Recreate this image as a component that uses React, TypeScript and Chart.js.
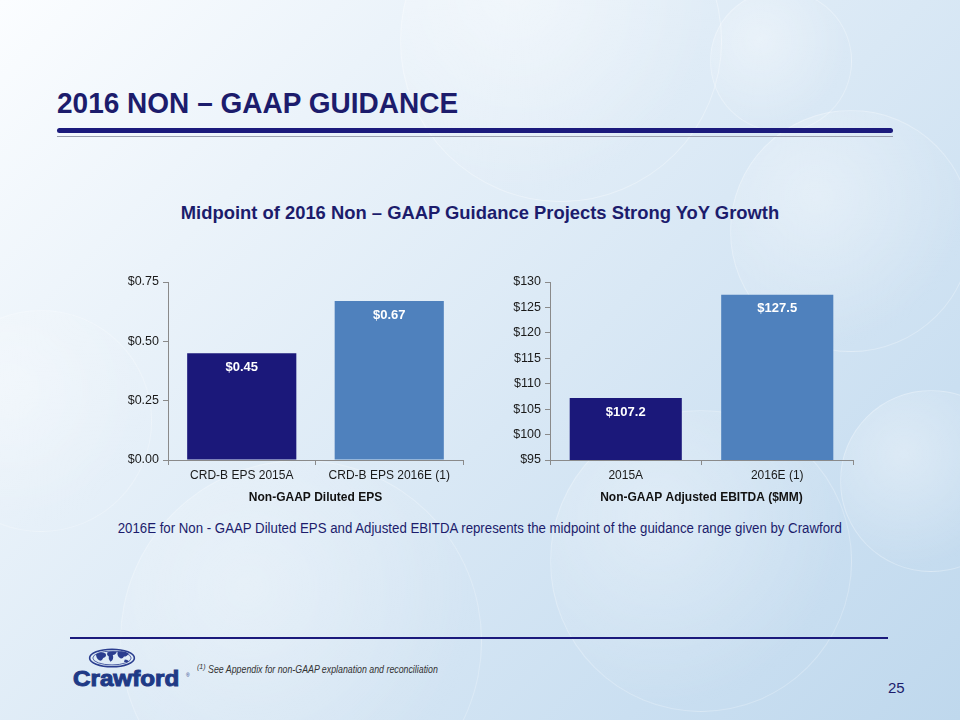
import React, { useEffect, useRef } from "react";
import { Chart, registerables } from "chart.js";

Chart.register(...registerables);

// ---------- data ----------
const epsCategories = ["CRD-B EPS 2015A", "CRD-B EPS 2016E (1)"];
const epsValues = [0.45, 0.67];
const epsValueLabels = ["$0.45", "$0.67"];
const epsAxisTitle = "Non-GAAP Diluted EPS";
const epsMin = 0;
const epsMax = 0.75;
const epsStep = 0.25;

const ebitdaCategories = ["2015A", "2016E (1)"];
const ebitdaValues = [107.2, 127.5];
const ebitdaValueLabels = ["$107.2", "$127.5"];
const ebitdaAxisTitle = "Non-GAAP Adjusted EBITDA ($MM)";
const ebitdaMin = 95;
const ebitdaMax = 130;
const ebitdaStep = 5;

const barColors = ["#1b187a", "#4f81bd"];

const NAVY = "#1c1c6c";
const SANS = "'Liberation Sans', Arial, sans-serif";

function makeLabelPlugin(labels: string[]) {
  return {
    id: "valueLabels",
    afterDatasetsDraw(chart: any) {
      const ctx = chart.ctx;
      const meta = chart.getDatasetMeta(0);
      ctx.save();
      ctx.font = `bold 13px ${SANS}`;
      ctx.fillStyle = "#ffffff";
      ctx.textAlign = "center";
      ctx.textBaseline = "middle";
      meta.data.forEach((bar: any, i: number) => {
        ctx.fillText(labels[i], bar.x, bar.y + 14);
      });
      ctx.restore();
    },
  };
}

type BarProps = {
  categories: string[];
  values: number[];
  valueLabels: string[];
  min: number;
  max: number;
  step: number;
  fmt: (v: number) => string;
  title: string;
  axisWidth: number;
  left: number;
  top: number;
};

function BarChart(p: BarProps) {
  const ref = useRef<HTMLCanvasElement>(null);
  useEffect(() => {
    const chart = new Chart(ref.current as HTMLCanvasElement, {
      type: "bar",
      data: {
        labels: p.categories,
        datasets: [
          {
            data: p.values,
            backgroundColor: barColors,
            barPercentage: 0.74,
            categoryPercentage: 1,
          },
        ],
      },
      options: {
        animation: false,
        responsive: false,
        maintainAspectRatio: false,
        layout: { padding: { top: 12, right: 17, left: 0, bottom: 0 } },
        plugins: { legend: { display: false }, tooltip: { enabled: false } },
        scales: {
          x: {
            grid: {
              display: true,
              drawOnChartArea: false,
              offset: true,
              tickLength: 5,
              color: "#8a8a8a",
            },
            border: { color: "#8a8a8a", width: 1 },
            ticks: {
              color: "#1a1a1a",
              font: { family: SANS, size: 12 },
              padding: 3,
              maxRotation: 0,
            },
            title: {
              display: true,
              text: p.title,
              color: "#111111",
              font: { family: SANS, size: 12, weight: "bold" },
              padding: { top: 3, bottom: 0 },
            },
            afterFit: (s: any) => {
              s.height = 45;
            },
          },
          y: {
            min: p.min,
            max: p.max,
            ticks: {
              stepSize: p.step,
              callback: (v: any) => p.fmt(Number(v)),
              color: "#1a1a1a",
              font: { family: SANS, size: 12.5 },
              padding: 4,
            },
            grid: {
              drawOnChartArea: false,
              tickLength: 5,
              color: "#8a8a8a",
            },
            border: { color: "#8a8a8a", width: 1 },
            afterFit: (s: any) => {
              s.width = p.axisWidth;
            },
          },
        },
      } as any,
      plugins: [makeLabelPlugin(p.valueLabels)],
    });
    return () => chart.destroy();
  }, []);
  return (
    <canvas
      ref={ref}
      width={380}
      height={235}
      style={{ position: "absolute", left: p.left, top: p.top, width: 380, height: 235 }}
    />
  );
}

function Bubble({ x, y, r, o }: { x: number; y: number; r: number; o: number }) {
  return (
    <div
      style={{
        position: "absolute",
        left: x - r,
        top: y - r,
        width: 2 * r,
        height: 2 * r,
        borderRadius: "50%",
        background: `radial-gradient(circle at 35% 35%, rgba(255,255,255,${o}) 0%, rgba(255,255,255,0) 70%)`,
        border: `1px solid rgba(255,255,255,${o * 0.8})`,
      }}
    />
  );
}

function Logo() {
  return (
    <>
      <svg
        width="48"
        height="20"
        viewBox="0 0 60 26"
        preserveAspectRatio="none"
        style={{ position: "absolute", left: 88, top: 648 }}
      >
        <ellipse cx="30" cy="13" rx="28" ry="11.5" fill="none" stroke="#2a3d8f" strokeWidth="2" />
        <ellipse cx="30" cy="13" rx="24" ry="9" fill="none" stroke="#2a3d8f" strokeWidth="1" />
        <path d="M10 8 q6 -4 12 -1 q2 4 -3 6 q-2 5 -5 3 q-4 -3 -4 -8z" fill="#2a3d8f" />
        <path d="M24 6 q6 -3 12 -1 q-1 4 -5 4 q2 6 -3 9 q-3 -4 -2 -7 q-3 -2 -2 -5z" fill="#2a3d8f" />
        <path d="M37 5 q8 -2 14 2 q-2 4 -6 4 q-2 4 -5 2 q-4 -2 -3 -8z" fill="#2a3d8f" />
        <path d="M46 15 q4 0 5 3 q-3 2 -6 0z" fill="#2a3d8f" />
      </svg>
      <div
        style={{
          position: "absolute",
          left: 73,
          top: 668,
          font: `bold 22px ${SANS}`,
          lineHeight: "22px",
          color: "#1f3a86",
          whiteSpace: "nowrap",
          transform: "scaleX(1.1)",
          transformOrigin: "left center",
          WebkitTextStroke: "1px #1f3a86",
        }}
      >
        Crawford
      </div>
      <div style={{ position: "absolute", left: 186, top: 672, font: `5px ${SANS}`, color: "#1f3a86" }}>®</div>
    </>
  );
}

function CenterText({
  top,
  font,
  scale,
  children,
}: {
  top: number;
  font: string;
  scale: number;
  children: React.ReactNode;
}) {
  return (
    <div
      style={{
        position: "absolute",
        left: 0,
        width: 960,
        top,
        textAlign: "center",
        whiteSpace: "nowrap",
      }}
    >
      <span
        style={{
          display: "inline-block",
          font,
          color: NAVY,
          transform: `scaleX(${scale})`,
          transformOrigin: "center center",
        }}
      >
        {children}
      </span>
    </div>
  );
}

export default function App() {
  useEffect(() => {
    document.body.style.margin = "0";
  }, []);
  return (
    <div
      style={{
        position: "relative",
        width: 960,
        height: 720,
        overflow: "hidden",
        background:
          "linear-gradient(135deg, #fbfdff 0%, #ebf3fa 25%, #d9e8f5 55%, #cadff1 80%, #bfd8ed 100%)",
        fontFamily: SANS,
      }}
    >
      <Bubble x={560} y={40} r={160} o={0.4} />
      <Bubble x={850} y={230} r={120} o={0.35} />
      <Bubble x={300} y={640} r={180} o={0.3} />
      <Bubble x={700} y={560} r={150} o={0.3} />
      <Bubble x={40} y={420} r={110} o={0.3} />
      <Bubble x={930} y={480} r={90} o={0.35} />
      <Bubble x={780} y={60} r={70} o={0.35} />

      <div
        style={{
          position: "absolute",
          left: 57,
          top: 84,
          font: `bold 29px ${SANS}`,
          color: NAVY,
          whiteSpace: "nowrap",
          lineHeight: "38px",
          transform: "scaleX(0.966)",
          transformOrigin: "left center",
        }}
      >
        2016 NON – GAAP GUIDANCE
      </div>
      <div
        style={{
          position: "absolute",
          left: 57,
          top: 128,
          width: 836,
          height: 5,
          borderRadius: 3,
          background: "#1b1a7c",
        }}
      />
      <div style={{ position: "absolute", left: 57, top: 136, width: 836, height: 1, background: "#9a9fae" }} />

      <CenterText top={202} font={`bold 18.4px/22px ${SANS}`} scale={1}>
        Midpoint of 2016 Non – GAAP Guidance Projects Strong YoY Growth
      </CenterText>

      <BarChart
        categories={epsCategories}
        values={epsValues}
        valueLabels={epsValueLabels}
        min={epsMin}
        max={epsMax}
        step={epsStep}
        fmt={(v) => "$" + v.toFixed(2)}
        title={epsAxisTitle}
        axisWidth={68}
        left={100}
        top={270}
      />
      <BarChart
        categories={ebitdaCategories}
        values={ebitdaValues}
        valueLabels={ebitdaValueLabels}
        min={ebitdaMin}
        max={ebitdaMax}
        step={ebitdaStep}
        fmt={(v) => "$" + v.toFixed(0)}
        title={ebitdaAxisTitle}
        axisWidth={60}
        left={490}
        top={270}
      />

      <CenterText top={519} font={`14px/18px ${SANS}`} scale={0.946}>
        2016E for Non - GAAP Diluted EPS and Adjusted EBITDA represents the midpoint of the guidance range given by Crawford
      </CenterText>

      <div style={{ position: "absolute", left: 70, top: 637, width: 818, height: 2, background: "#1b1a7c" }} />
      <Logo />
      <div
        style={{
          position: "absolute",
          left: 197,
          top: 662,
          font: `italic 10px ${SANS}`,
          color: "#333",
          whiteSpace: "nowrap",
          transform: "scaleX(0.88)",
          transformOrigin: "left center",
        }}
      >
        <sup style={{ fontSize: 8 }}>(1)</sup> See Appendix for non-GAAP explanation and reconciliation
      </div>
      <div
        style={{
          position: "absolute",
          left: 888,
          top: 679,
          font: `15px ${SANS}`,
          color: NAVY,
        }}
      >
        25
      </div>
    </div>
  );
}
